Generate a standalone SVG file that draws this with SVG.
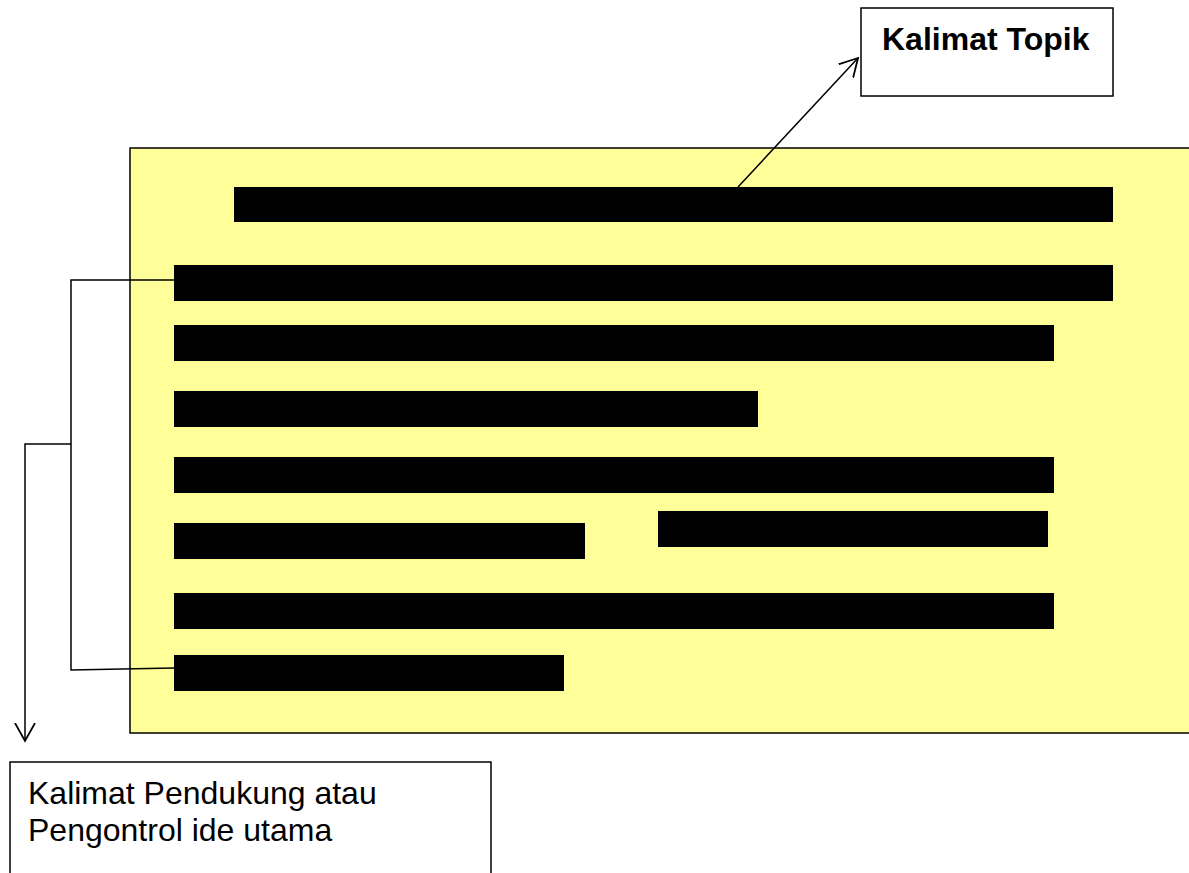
<svg xmlns="http://www.w3.org/2000/svg" width="1189" height="873" viewBox="0 0 1189 873">
<style>
.box{fill:#fff;stroke:#000;stroke-width:1.5}
.bar{fill:#000}
.ln{fill:none;stroke:#000;stroke-width:1.5}
.t{font-family:"Liberation Sans",Arial,sans-serif;font-size:32px;fill:#000}
</style>
<defs>
<marker id="arr" markerWidth="24" markerHeight="24" refX="18" refY="10" orient="auto" markerUnits="userSpaceOnUse" viewBox="0 0 24 20">
<path d="M0,0 L18,10 L0,20" fill="none" stroke="#000" stroke-width="1.8"/>
</marker>
</defs>
<rect width="1189" height="873" fill="#fff"/>
<g id="paragraph">
<rect x="130" y="148" width="1070" height="585" fill="#FFFF99" stroke="#000" stroke-width="1.5"/>
<rect class="bar" x="234" y="187" width="879" height="35"/>
<rect class="bar" x="174" y="265" width="939" height="36"/>
<rect class="bar" x="174" y="325" width="880" height="36"/>
<rect class="bar" x="174" y="391" width="584" height="36"/>
<rect class="bar" x="174" y="457" width="880" height="36"/>
<rect class="bar" x="174" y="523" width="411" height="36"/>
<rect class="bar" x="658" y="511" width="390" height="36"/>
<rect class="bar" x="174" y="593" width="880" height="36"/>
<rect class="bar" x="174" y="655" width="390" height="36"/>
</g>
<g id="topik">
<rect class="box" x="861" y="8" width="252" height="88"/>
<text class="t" x="882" y="50" font-weight="bold">Kalimat Topik</text>
</g>
<g id="pendukung">
<rect class="box" x="10" y="762" width="481" height="130"/>
<text class="t" x="28" y="804">Kalimat Pendukung atau</text>
<text class="t" x="28" y="841">Pengontrol ide utama</text>
</g>
<g id="connectors">
<line class="ln" x1="738" y1="187" x2="858" y2="58" marker-end="url(#arr)"/>
<polyline class="ln" points="174,280 71,280 71,670 174,668"/>
<polyline class="ln" points="71,444 25,444 25,741" marker-end="url(#arr)"/>
</g>
</svg>
